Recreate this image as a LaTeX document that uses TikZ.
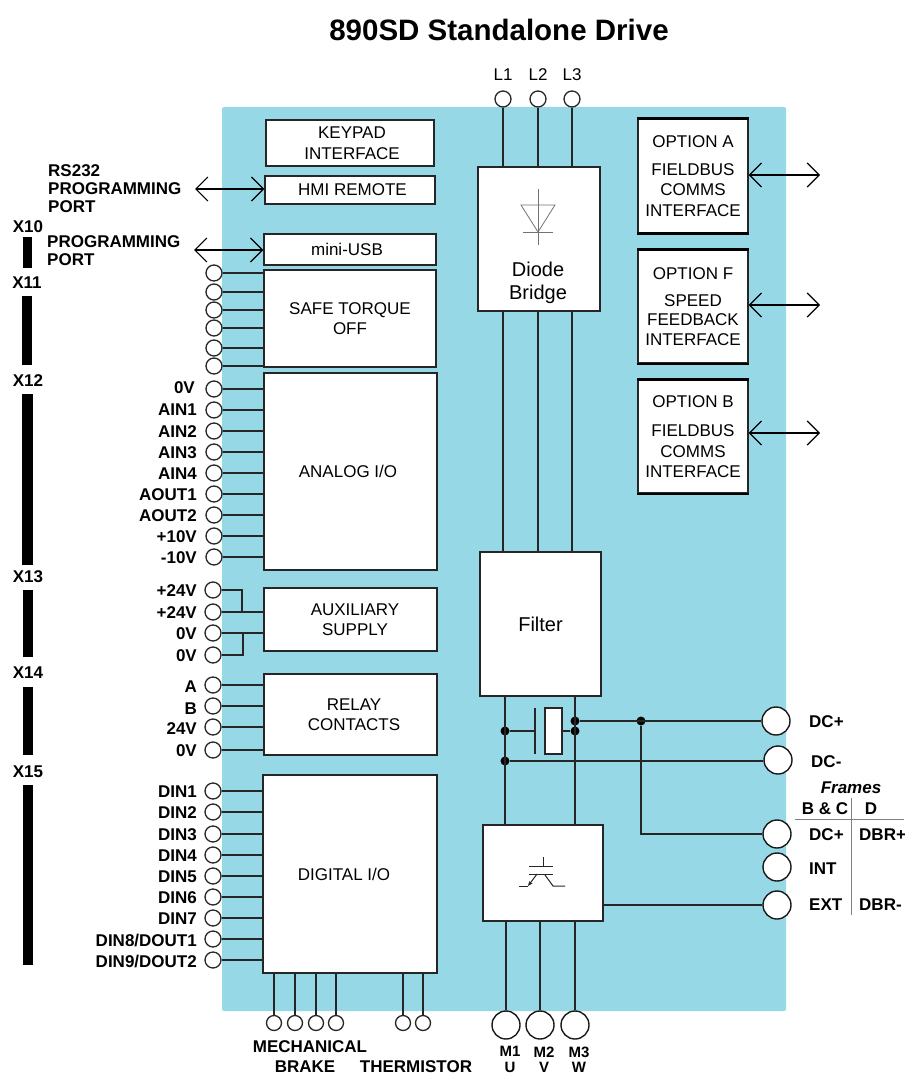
\documentclass[tikz,border=0pt]{standalone}
\usepackage{fontspec}
\setmainfont{Liberation Sans}
\usetikzlibrary{arrows.meta}
\definecolor{panelblue}{HTML}{97D8E6}
\begin{document}
\begin{tikzpicture}[x=1pt,y=-1pt,
    blk/.style={draw=black!85, line width=1.4pt, fill=white, inner sep=0pt, align=center, font=\fontsize{17}{20.5}\selectfont},
    port/.style={circle, draw=black!85, line width=1.3pt, fill=white, inner sep=0pt, minimum size=16pt},
    bigport/.style={circle, draw=black!90, line width=1.4pt, fill=white, inner sep=0pt, minimum size=28pt},
    jdot/.style={circle, fill=black, inner sep=0pt, minimum size=9pt},
    wire/.style={black!85, line width=1.4pt},
    bus/.style={black, line width=1.2pt, {Straight Barb[length=12pt,width=24pt,line width=1.2pt]}-{Straight Barb[length=12pt,width=24pt,line width=1.2pt]}},
    lbl/.style={font=\bfseries\fontsize{17}{18}\selectfont, inner sep=0pt, align=left},
    pin/.style={lbl, anchor=east},
    mlbl/.style={lbl, align=center, font=\bfseries\fontsize{15}{15.5}\selectfont},
    txt/.style={font=\fontsize{17}{20.5}\selectfont, inner sep=0pt, align=center}]
    \useasboundingbox (0,0) rectangle (904,1075);
    \fill[panelblue, rounded corners=2pt] (222,107) rectangle (786,1011);

    \node[lbl, font=\bfseries\fontsize{29.5}{32}\selectfont] (title) at (499,30) {890SD Standalone Drive};

    % left column
    \node[blk, minimum width=168pt, minimum height=46pt] (keypad) at (350,143) {\hspace*{4pt}KEYPAD\\\hspace*{4pt}INTERFACE};
    \node[blk, minimum width=170pt, minimum height=28pt] (hmi) at (350,190) {\hspace*{5pt}HMI REMOTE};
    \node[blk, minimum width=172pt, minimum height=31pt] (usb) at (350,249.5) {mini-USB\hspace*{6pt}};
    \node[blk, minimum width=172pt, minimum height=97pt] (safe) at (350,318.5) {\raisebox{-1pt}{SAFE TORQUE}\\\raisebox{-1pt}{OFF}};
    \node[blk, minimum width=173pt, minimum height=197pt] (analog) at (350.5,471.5) {\raisebox{-3pt}{ANALOG I/O}\hspace*{5pt}};
    \node[blk, minimum width=173pt, minimum height=63pt] (aux) at (350.5,619.5) {\hspace*{9pt}AUXILIARY\\\hspace*{9pt}SUPPLY};
    \node[blk, minimum width=173pt, minimum height=81pt] (relay) at (350.5,714.5) {\hspace*{7pt}RELAY\\\hspace*{7pt}CONTACTS};
    \node[blk, minimum width=174pt, minimum height=198pt] (digital) at (350,874) {\raisebox{-2pt}{DIGITAL I/O}\hspace*{12pt}};

    % middle column
    \node[blk, minimum width=122pt, minimum height=144pt] (diode) at (539,239) {};
    \node[txt, font=\fontsize{20}{23}\selectfont] (diodetxt) at (538,283) {Diode\\Bridge};
    \node[blk, minimum width=121pt, minimum height=144pt, font=\fontsize{20}{23}\selectfont] (filter) at (540.5,624) {Filter};
    \node[blk, minimum width=120pt, minimum height=96pt] (inverter) at (543,873) {};

    % option cards
    \node[blk, minimum width=110pt, minimum height=113pt] (opta) at (693,176) {OPTION A\\[7pt]FIELDBUS\\COMMS\\INTERFACE};
    \node[blk, minimum width=110pt, minimum height=113pt] (optf) at (693,306.5) {OPTION F\\[7pt]SPEED\\[-2pt]FEEDBACK\\INTERFACE};
    \node[blk, minimum width=110pt, minimum height=113pt] (optb) at (693,436.5) {OPTION B\\[9pt]FIELDBUS\\COMMS\\INTERFACE};
    \draw[line width=3pt] (opta.north west) -- (opta.north east);
    \draw[line width=3pt] (opta.south west) -- (opta.south east);
    \draw[line width=3pt] (optf.north west) -- (optf.north east);
    \draw[line width=2pt] (optf.south west) -- (optf.south east);
    \draw[line width=3pt] (optb.north west) -- (optb.north east);
    \draw[line width=2pt] (optb.south west) -- (optb.south east);

    % mains
    \node[port] (l1) at (503,99) {};
    \node[port] (l2) at (538,99) {};
    \node[port] (l3) at (572,99) {};
    \node[txt] (l1txt) at (503,75) {L1};
    \node[txt] (l2txt) at (538,75) {L2};
    \node[txt] (l3txt) at (572,75) {L3};
    \draw[wire] (l1) -- (l1 |- diode.north);
    \draw[wire] (l2) -- (l2 |- diode.north);
    \draw[wire] (l3) -- (l3 |- diode.north);
    \draw[wire] (l1 |- diode.south) -- (l1 |- filter.north);
    \draw[wire] (l2 |- diode.south) -- (l2 |- filter.north);
    \draw[wire] (l3 |- diode.south) -- (l3 |- filter.north);

    % diode symbol
    \draw[black!55, line width=0.8pt] (538,189) -- (538,245);
    \draw[black!55, line width=0.8pt] (521,205) -- (555,205) -- (538,232) -- cycle;
    \draw[black!55, line width=0.8pt] (523,232) -- (553,232);

    % serial ports
    \coordinate (rsend) at (195,189);
    \coordinate (usbend) at (194,250);
    \node[lbl, anchor=west] (rstxt) at (48,189) {RS232\\PROGRAMMING\\PORT};
    \node[lbl, anchor=west] (progtxt) at (47,251) {PROGRAMMING\\PORT};
    \draw[bus] (rsend) -- (rsend -| hmi.west);
    \draw[bus] (usbend) -- (usbend -| usb.west);

    % connector bars
    \node[lbl] (x10) at (28,227) {X10};
    \node[lbl] (x11) at (27,283) {X11};
    \node[lbl] (x12) at (28,381) {X12};
    \node[lbl] (x13) at (28,577) {X13};
    \node[lbl] (x14) at (28,673) {X14};
    \node[lbl] (x15) at (28,772) {X15};
    \fill (23,237) rectangle (32,268);
    \fill (22,296) rectangle (32,365);
    \fill (22,394) rectangle (33,565);
    \fill (23,590) rectangle (33,657);
    \fill (23,687) rectangle (33,755);
    \fill (23,785) rectangle (33,965);

    % safe torque off
    \node[port] (s1) at (214,273) {};
    \node[port] (s2) at (214,292) {};
    \node[port] (s3) at (214,310) {};
    \node[port] (s4) at (214,328) {};
    \node[port] (s5) at (214,348) {};
    \node[port] (s6) at (214,366) {};
    \draw[wire] (s1.east) -- (s1.east -| safe.west);
    \draw[wire] (s2.east) -- (s2.east -| safe.west);
    \draw[wire] (s3.east) -- (s3.east -| safe.west);
    \draw[wire] (s4.east) -- (s4.east -| safe.west);
    \draw[wire] (s5.east) -- (s5.east -| safe.west);
    \draw[wire] (s6.east) -- (s6.east -| safe.west);

    % analog
    \node[port] (a1) at (214,389) {};
    \node[port] (a2) at (214,410) {};
    \node[port] (a3) at (214,431) {};
    \node[port] (a4) at (214,452) {};
    \node[port] (a5) at (214,473) {};
    \node[port] (a6) at (214,494) {};
    \node[port] (a7) at (214,515) {};
    \node[port] (a8) at (214,536) {};
    \node[port] (a9) at (214,557) {};
    \node[pin] (a1txt) at (195,388) {0V};
    \node[pin] (a2txt) at (197,410) {AIN1};
    \node[pin] (a3txt) at (197,432) {AIN2};
    \node[pin] (a4txt) at (197,453) {AIN3};
    \node[pin] (a5txt) at (197,474) {AIN4};
    \node[pin] (a6txt) at (197,495) {AOUT1};
    \node[pin] (a7txt) at (197,516) {AOUT2};
    \node[pin] (a8txt) at (197,537) {+10V};
    \node[pin] (a9txt) at (197,558) {-10V};
    \draw[wire] (a1.east) -- (a1.east -| analog.west);
    \draw[wire] (a2.east) -- (a2.east -| analog.west);
    \draw[wire] (a3.east) -- (a3.east -| analog.west);
    \draw[wire] (a4.east) -- (a4.east -| analog.west);
    \draw[wire] (a5.east) -- (a5.east -| analog.west);
    \draw[wire] (a6.east) -- (a6.east -| analog.west);
    \draw[wire] (a7.east) -- (a7.east -| analog.west);
    \draw[wire] (a8.east) -- (a8.east -| analog.west);
    \draw[wire] (a9.east) -- (a9.east -| analog.west);

    % auxiliary supply
    \node[port] (u1) at (213,590) {};
    \node[port] (u2) at (213,612) {};
    \node[port] (u3) at (213,633) {};
    \node[port] (u4) at (213,655) {};
    \node[pin] (u1txt) at (197,591) {+24V};
    \node[pin] (u2txt) at (197,613) {+24V};
    \node[pin] (u3txt) at (197,634) {0V};
    \node[pin] (u4txt) at (197,656) {0V};
    \draw[wire] (u1.east) -- (242,590) -- (242,612);
    \draw[wire] (u2.east) -- (u2.east -| aux.west);
    \draw[wire] (u3.east) -- (u3.east -| aux.west);
    \draw[wire] (u4.east) -- (243,655) -- (243,633);

    % relay
    \node[port] (r1) at (213,685) {};
    \node[port] (r2) at (213,706) {};
    \node[port] (r3) at (213,727) {};
    \node[port] (r4) at (213,750) {};
    \node[pin] (r1txt) at (197,687) {A};
    \node[pin] (r2txt) at (197,709) {B};
    \node[pin] (r3txt) at (197,729) {24V};
    \node[pin] (r4txt) at (197,751) {0V};
    \draw[wire] (r1.east) -- (r1.east -| relay.west);
    \draw[wire] (r2.east) -- (r2.east -| relay.west);
    \draw[wire] (r3.east) -- (r3.east -| relay.west);
    \draw[wire] (r4.east) -- (r4.east -| relay.west);

    % digital
    \node[port] (d1) at (213,791) {};
    \node[port] (d2) at (213,812) {};
    \node[port] (d3) at (213,834) {};
    \node[port] (d4) at (213,855) {};
    \node[port] (d5) at (213,876) {};
    \node[port] (d6) at (213,897) {};
    \node[port] (d7) at (213,918) {};
    \node[port] (d8) at (213,939) {};
    \node[port] (d9) at (213,960) {};
    \node[pin] (d1txt) at (197,792) {DIN1};
    \node[pin] (d2txt) at (197,813) {DIN2};
    \node[pin] (d3txt) at (197,835) {DIN3};
    \node[pin] (d4txt) at (197,856) {DIN4};
    \node[pin] (d5txt) at (197,877) {DIN5};
    \node[pin] (d6txt) at (197,898) {DIN6};
    \node[pin] (d7txt) at (197,919) {DIN7};
    \node[pin] (d8txt) at (197,940) {DIN8/DOUT1};
    \node[pin] (d9txt) at (197,961) {DIN9/DOUT2};
    \draw[wire] (d1.east) -- (d1.east -| digital.west);
    \draw[wire] (d2.east) -- (d2.east -| digital.west);
    \draw[wire] (d3.east) -- (d3.east -| digital.west);
    \draw[wire] (d4.east) -- (d4.east -| digital.west);
    \draw[wire] (d5.east) -- (d5.east -| digital.west);
    \draw[wire] (d6.east) -- (d6.east -| digital.west);
    \draw[wire] (d7.east) -- (d7.east -| digital.west);
    \draw[wire] (d8.east) -- (d8.east -| digital.west);
    \draw[wire] (d9.east) -- (d9.east -| digital.west);

    % brake and thermistor
    \node[port, minimum size=15pt] (b1) at (274,1023) {};
    \node[port, minimum size=15pt] (b2) at (295,1023) {};
    \node[port, minimum size=15pt] (b3) at (316,1023) {};
    \node[port, minimum size=15pt] (b4) at (336,1023) {};
    \node[port, minimum size=15pt] (t1) at (403,1023) {};
    \node[port, minimum size=15pt] (t2) at (423,1023) {};
    \draw[wire] (b1) -- (b1 |- digital.south);
    \draw[wire] (b2) -- (b2 |- digital.south);
    \draw[wire] (b3) -- (b3 |- digital.south);
    \draw[wire] (b4) -- (b4 |- digital.south);
    \draw[wire] (t1) -- (t1 |- digital.south);
    \draw[wire] (t2) -- (t2 |- digital.south);
    \node[lbl] (mechtxt) at (310,1047) {MECHANICAL};
    \node[lbl] (braketxt) at (305,1067) {BRAKE};
    \node[lbl] (thermtxt) at (416,1067) {THERMISTOR};

    % motor outputs
    \node[bigport] (m1) at (506,1025) {};
    \node[bigport] (m2) at (540,1025) {};
    \node[bigport] (m3) at (575,1025) {};
    \draw[wire] (m1) -- (m1 |- inverter.south);
    \draw[wire] (m2) -- (m2 |- inverter.south);
    \draw[wire] (m3) -- (m3 |- inverter.south);
    \node[mlbl] (m1txt) at (510,1059.5) {M1\\U};
    \node[mlbl] (m2txt) at (544,1059.5) {M2\\V};
    \node[mlbl] (m3txt) at (579,1059.5) {M3\\W};

    % dc link
    \node[bigport] (dcp) at (776,721) {};
    \node[bigport] (dcm) at (778,760) {};
    \node[bigport] (dbrp) at (777,834) {};
    \node[bigport] (int) at (777,867) {};
    \node[bigport] (ext) at (777,905) {};
    \node[jdot] (j1) at (505,731) {};
    \node[jdot] (j2) at (505,761) {};
    \node[jdot] (j3) at (575,721) {};
    \node[jdot] (j4) at (575,731) {};
    \node[jdot] (j5) at (641,721) {};
    \node[draw=black!85, line width=1.2pt, fill=white, inner sep=0pt, minimum width=17pt, minimum height=46pt] (cap) at (553.5,731) {};
    \coordinate (plate) at (535,731);
    \draw[wire] (j1 |- filter.south) -- (j1 |- inverter.north);
    \draw[wire] (j3 |- filter.south) -- (j3 |- inverter.north);
    \draw[wire] (j1) -- (plate);
    \draw[wire] (535,708) -- (535,754);
    \draw[wire] (cap.east) -- (j4);
    \draw[wire] (j3) -- (j3 -| dcp.west);
    \draw[wire] (j2) -- (j2 -| dcm.west);
    \draw[wire] (j5) -- (j5 |- dbrp) -- (dbrp.west);
    \draw[wire] (inverter.east |- ext) -- (ext.west);

    % igbt symbol
    \draw[black!85, line width=1pt] (543,857) -- (543,866);
    \draw[black!85, line width=1pt] (529,866) -- (553,866);
    \draw[black!85, line width=1pt] (529,874) -- (553,874);
    \draw[black!85, line width=1pt] (545,875) -- (553,886) -- (565,886);
    \draw[black!85, line width=1pt, -{Stealth[length=5pt,width=4pt]}] (537,874) -- (528,886);
    \draw[black!85, line width=1pt] (528,886) -- (519,886);

    % option buses
    \coordinate (aend) at (820,175);
    \coordinate (fend) at (820,305);
    \coordinate (bend) at (820,433);
    \draw[bus] (aend -| opta.east) -- (aend);
    \draw[bus] (fend -| optf.east) -- (fend);
    \draw[bus] (bend -| optb.east) -- (bend);

    % frames table
    \node[lbl, anchor=west] (dcptxt) at (809,722) {DC+};
    \node[lbl, anchor=west] (dcmtxt) at (811,762) {DC-};
    \node[lbl, font=\bfseries\itshape\fontsize{17}{18}\selectfont] (frames) at (851,788) {Frames};
    \node[lbl] (bctxt) at (825,809) {B \& C};
    \node[lbl] (dtxt) at (871,809) {D};
    \node[lbl, anchor=west] (dbca) at (809,835) {DC+};
    \node[lbl, anchor=west] (dbd) at (859,835) {DBR+};
    \node[lbl, anchor=west] (inttxt) at (809,869) {INT};
    \node[lbl, anchor=west] (exttxt) at (809,905) {EXT};
    \node[lbl, anchor=west] (dbm) at (859,905) {DBR-};
    \coordinate (rulea) at (795,819);
    \coordinate (ruleb) at (904,819);
    \coordinate (rulec) at (851,798);
    \coordinate (ruled) at (851,915);
    \draw[black!50, line width=0.8pt] (rulea) -- (ruleb);
    \draw[black!50, line width=0.8pt] (rulec) -- (ruled);
\end{tikzpicture}
\end{document}
